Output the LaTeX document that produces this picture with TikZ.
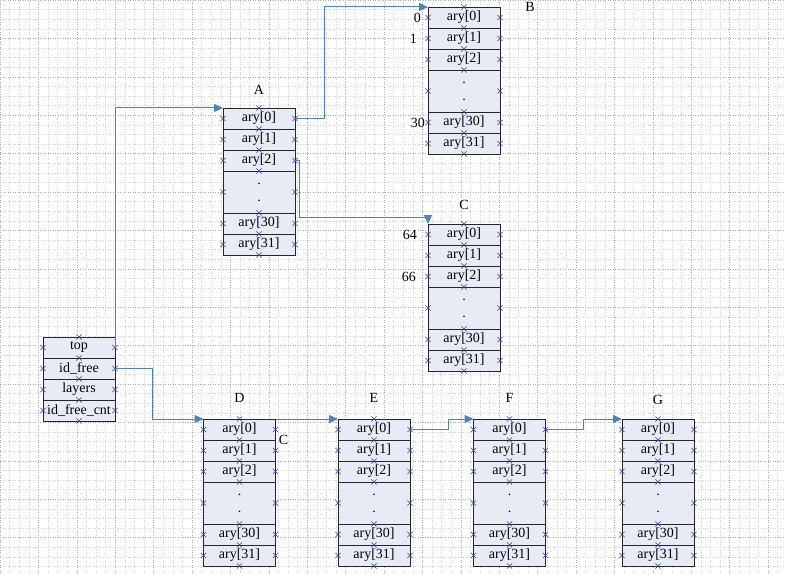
\documentclass[tikz,border=0pt]{standalone}
\usepackage{fontspec}
\setmainfont{Liberation Serif}
\usetikzlibrary{positioning, arrows.meta}

\definecolor{boxfill}{RGB}{230,235,246}
\definecolor{linkcol}{RGB}{79,129,189}
\definecolor{xcol}{RGB}{60,60,140}

\tikzset{
  cell/.style={draw=black!85, fill=boxfill, line width=0.8pt, minimum width=72pt,
    minimum height=21pt, inner sep=0pt, outer sep=0pt, align=center,
    font=\fontsize{14}{16}\selectfont},
  lbl/.style={font=\fontsize{14}{16}\selectfont, inner sep=0pt},
  idx/.style={font=\fontsize{14}{16}\selectfont, inner sep=0pt, anchor=east},
  link/.style={linkcol, line width=1pt, -{Triangle[length=9pt, width=8pt]}},
  xm/.pic={\draw[xcol, line width=0.55pt] (-2.6,-2.6) -- (2.6,2.6) (-2.6,2.6) -- (2.6,-2.6);}
}

% blocco di 32 elementi: nome, x centro, y alto
\newcommand{\arybox}[3]{%
  \node[cell] (#10) at (#2,#3+10.5) {ary[0]};
  \node[cell, below=0pt of #10] (#11) {ary[1]};
  \node[cell, below=0pt of #11] (#12) {ary[2]};
  \node[cell, minimum height=42pt, below=0pt of #12] (#1d) {.\\[1pt].};
  \node[cell, below=0pt of #1d] (#130) {ary[30]};
  \node[cell, below=0pt of #130] (#131) {ary[31]};
  \foreach \r in {0,1,2,d,30,31} {
    \pic at (#1\r.west) {xm};
    \pic at (#1\r.east) {xm};
    \pic at (#1\r.north) {xm};
  }
  \pic at (#131.south) {xm};
}

\begin{document}
\begin{tikzpicture}[x=1pt, y=-1pt]
    \useasboundingbox (0,0) rectangle (785,575);
    \fill[white] (0,0) rectangle (785,575);

    % Griglia
    \draw[gray!35, dotted, line width=0.5pt, step=9.6pt] (0,0) grid (785,575);
    \draw[gray!65, dotted, line width=0.5pt, step=38.4pt] (0,0) grid (785,575);

    % Struttura
    \node[cell] (S0) at (79,347.5) {top};
    \node[cell, below=0pt of S0] (S1) {id\_free};
    \node[cell, below=0pt of S1] (S2) {layers};
    \node[cell, below=0pt of S2] (S3) {id\_free\_cnt};
    \foreach \r in {0,1,2,3} {
      \pic at (S\r.west) {xm};
      \pic at (S\r.east) {xm};
      \pic at (S\r.north) {xm};
    }
    \pic at (S3.south) {xm};

    % Blocchi
    \arybox{A}{259}{108}
    \arybox{B}{464}{7}
    \arybox{C}{464}{224}
    \arybox{D}{239.5}{419}
    \arybox{E}{374}{419}
    \arybox{F}{509.5}{419}
    \arybox{G}{658}{419}

    % Etichette
    \node[lbl] (labA) at ([yshift=18pt]A0.north) {A};
    \node[lbl] (labB) at ([xshift=30pt]B0.north east) {B};
    \node[lbl] (labC) at ([yshift=19pt]C0.north) {C};
    \node[lbl] (labD) at ([yshift=21pt]D0.north) {D};
    \node[lbl] (labE) at ([yshift=21pt]E0.north) {E};
    \node[lbl] (labF) at ([yshift=21pt]F0.north) {F};
    \node[lbl] (labG) at ([yshift=19pt]G0.north) {G};
    \node[lbl] (labDC) at ([xshift=8pt]D0.south east) {C};

    % Indici
    \node[idx] (n0) at ([xshift=-7pt]B0.west) {0};
    \node[idx] (n1) at ([xshift=-11pt]B1.west) {1};
    \node[idx] (n30) at ([xshift=-3pt]B30.west) {30};
    \node[idx] (n64) at ([xshift=-11pt]C0.west) {64};
    \node[idx] (n66) at ([xshift=-12pt]C2.west) {66};

    % Frecce
    \draw[link] (S0.east) |- (A0.north west);
    \draw[link] (S1.east) -- ++(37,0) |- (D0.north west);
    \draw[link] (A0.east) -- ++(29,0) |- (B0.north west);
    \draw[link] (A2.east) -- ++(4,0) |- ([yshift=7pt]C0.north west) -- (C0.north west);
    \draw[link] (D0.north east) -- (E0.north west);
    \draw[link] (E0.east) -- ++(38,0) |- (F0.north west);
    \draw[link] (F0.east) -- ++(38,0) |- (G0.north west);
\end{tikzpicture}
\end{document}
